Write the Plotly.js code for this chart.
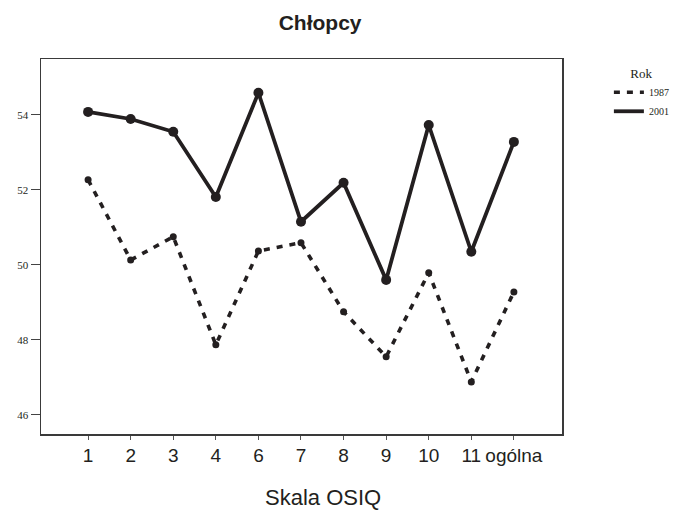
<!DOCTYPE html>
<html>
<head>
<meta charset="utf-8">
<script src="https://cdn.plot.ly/plotly-3.0.1.min.js"></script>
<style>html,body{margin:0;padding:0;background:#fff;}#chart{width:684px;height:514px;}</style>
</head>
<body>
<div id="chart"></div>
<script>
const categories = ["1", "2", "3", "4", "6", "7", "8", "9", "10", "11", "ogólna"];
const values1987 = [52.27, 50.13, 50.75, 47.87, 50.37, 50.59, 48.75, 47.55, 49.79, 46.88, 49.28];
const values2001 = [54.08, 53.89, 53.55, 51.81, 54.59, 51.15, 52.19, 49.6, 53.73, 50.35, 53.28];
const yTicks = [46, 48, 50, 52, 54];
const seriesNames = ["1987", "2001"];

const ink = "#231f20";
const traces = [
  {x: categories, y: values1987, name: seriesNames[0], mode: "lines",
   line: {color: ink, width: 3.6, dash: "6px,7px"}, hoverinfo: "skip"},
  {x: categories, y: values2001, name: seriesNames[1], mode: "lines",
   line: {color: ink, width: 3.8}, hoverinfo: "skip"},
  {x: categories, y: values1987, mode: "markers", showlegend: false,
   marker: {color: ink, size: 7, symbol: "circle"}, hoverinfo: "skip"},
  {x: categories, y: values2001, mode: "markers", showlegend: false,
   marker: {color: ink, size: 10, symbol: "circle"}, hoverinfo: "skip"}
];

const layout = {
  width: 684, height: 514,
  margin: {l: 41, r: 122, t: 59, b: 80, autoexpand: false},
  paper_bgcolor: "#fff", plot_bgcolor: "#fff",
  title: {text: "<b>Chłopcy</b>", x: 0.468, xref: "container", y: 0.955, yref: "container",
          xanchor: "center", yanchor: "middle",
          font: {family: "Liberation Sans, Arial, sans-serif", size: 21, color: ink}},
  xaxis: {
    type: "category", range: [-1.106, 11.13], automargin: false,
    tickmode: "array", tickvals: categories, ticktext: categories, tickangle: 0,
    showline: true, linecolor: "#3a3a3a", linewidth: 1.5, mirror: true,
    ticks: "outside", ticklen: 4, tickwidth: 1, tickcolor: "#555",
    showgrid: false, zeroline: false,
    tickfont: {family: "Liberation Sans, Arial, sans-serif", size: 19, color: ink}
  },
  yaxis: {
    range: [45.49, 55.49], tickvals: yTicks, ticktext: yTicks.map(String), automargin: false,
    showline: true, linecolor: "#3a3a3a", linewidth: 1.5, mirror: true,
    ticks: "outside", ticklen: 9, tickwidth: 1, tickcolor: "#444",
    showgrid: false, zeroline: false,
    tickfont: {family: "Liberation Serif, Times New Roman, serif", size: 11, color: ink}
  },
  legend: {
    x: 1.09, xanchor: "left", y: 0.995, yanchor: "top",
    title: {text: "Rok", side: "top center", font: {family: "Liberation Serif, serif", size: 13, color: ink}},
    font: {family: "Liberation Serif, serif", size: 10, color: ink},
    bgcolor: "rgba(0,0,0,0)", borderwidth: 0, tracegroupgap: 2, itemwidth: 30
  },
  annotations: [
    {text: "Skala OSIQ", xref: "paper", yref: "paper", x: 0.541, y: -0.168,
     xanchor: "center", yanchor: "middle", showarrow: false,
     font: {family: "Liberation Sans, Arial, sans-serif", size: 22, color: ink}}
  ]
};

Plotly.newPlot("chart", traces, layout, {staticPlot: true, displayModeBar: false});
</script>
</body>
</html>
